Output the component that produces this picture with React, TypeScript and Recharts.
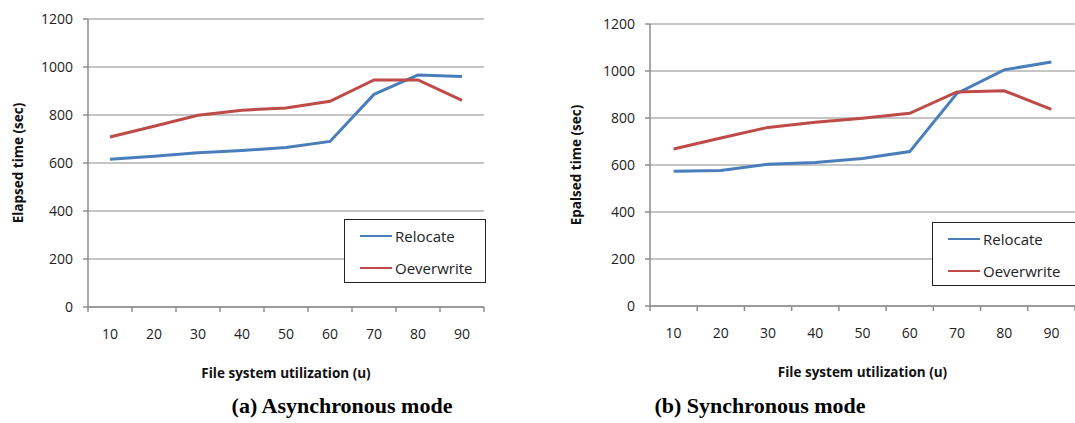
import React from 'react';
import { LineChart, Line, XAxis, YAxis, CartesianGrid } from 'recharts';

const categories = [10, 20, 30, 40, 50, 60, 70, 80, 90];
const asyncRelocate = [616, 628, 643, 652, 665, 690, 886, 967, 960];
const asyncOverwrite = [708, 753, 799, 820, 829, 857, 946, 946, 861];
const syncRelocate = [573, 577, 603, 611, 628, 657, 905, 1005, 1038];
const syncOverwrite = [668, 715, 760, 782, 799, 820, 911, 916, 837];
const yTicks = [0, 200, 400, 600, 800, 1000, 1200];
const seriesNames = ['Relocate', 'Oeverwrite'];

const BLUE = '#4a7ebb';
const RED = '#be4b48';
const GRID = '#8c8c8c';
const FONT = '"Open Sans", Calibri, sans-serif';

const asyncData = categories.map((u, i) => ({ u, relocate: asyncRelocate[i], overwrite: asyncOverwrite[i] }));
const syncData = categories.map((u, i) => ({ u, relocate: syncRelocate[i], overwrite: syncOverwrite[i] }));

const makeTick = (bw: number) => (props: any) => {
  const { x, y, payload, index } = props;
  const last = index === categories.length - 1;
  return (
    <g>
      <line x1={x - bw / 2} x2={x - bw / 2} y1={y} y2={y + 5} stroke={GRID} strokeWidth={1.5} />
      {last && <line x1={x + bw / 2} x2={x + bw / 2} y1={y} y2={y + 5} stroke={GRID} strokeWidth={1.5} />}
      <text x={x} y={y + 27} dy="0.35em" textAnchor="middle" fill="#222" fontSize={14} fontFamily={FONT}>
        {payload.value}
      </text>
    </g>
  );
};

const LegendBox = ({ left, top, width }: { left: number; top: number; width: number }) => (
  <div
    style={{
      position: 'absolute',
      left,
      top,
      width,
      height: 64,
      border: '1.5px solid #222',
      background: '#fff',
      boxSizing: 'border-box',
      fontFamily: FONT,
      fontSize: 15,
      color: '#222',
      paddingLeft: 15,
      paddingTop: 3,
    }}
  >
    {seriesNames.map((n, i) => (
      <div key={n} style={{ display: 'flex', alignItems: 'center', height: 26, marginBottom: i === 0 ? 6 : 0 }}>
        <div style={{ width: 32, height: 2.5, background: i === 0 ? BLUE : RED, marginRight: 3 }} />
        <span>{n}</span>
      </div>
    ))}
  </div>
);

type PanelProps = {
  data: any[];
  left: number;
  width: number;
  top: number;
  plotLeft: number;
  plotRight: number;
  plotBottom: number;
  yLabel: string;
  yLabelX: number;
  legendLeft: number;
  legendTop: number;
  legendWidth: number;
};

const Panel = ({ data, left, width, top, plotLeft, plotRight, plotBottom, yLabel, yLabelX, legendLeft, legendTop, legendWidth }: PanelProps) => {
  const height = 400;
  const xAxisHeight = 80;
  const bw = (plotRight - plotLeft) / categories.length;
  return (
    <div style={{ position: 'absolute', left, top: 0, width, height, overflow: 'hidden' }}>
      <LineChart
        width={width}
        height={height}
        data={data}
        margin={{ top, right: width - plotRight, left: 0, bottom: height - plotBottom - xAxisHeight }}
      >
        <CartesianGrid vertical={false} stroke={GRID} strokeWidth={1.2} />
        <XAxis
          dataKey="u"
          scale="band"
          height={xAxisHeight}
          tickLine={false}
          tickSize={0}
          tickMargin={0}
          interval={0}
          axisLine={{ stroke: GRID, strokeWidth: 1.5 }}
          tick={makeTick(bw)}
          label={{
            value: 'File system utilization (u)',
            position: 'insideTop',
            offset: 61,
            style: { fontFamily: FONT, fontSize: 13.5, fontWeight: 700, fill: '#111' },
          }}
        />
        <YAxis
          width={plotLeft}
          domain={[0, 1200]}
          ticks={yTicks}
          interval={0}
          tickSize={5}
          tickMargin={10}
          axisLine={{ stroke: GRID, strokeWidth: 1.5 }}
          tickLine={{ stroke: GRID, strokeWidth: 1.5 }}
          tick={{ fill: '#222', fontSize: 14, fontFamily: FONT }}
          label={{
            content: (p: any) => {
              const vb = p.viewBox || { x: 0, y: top, height: plotBottom - top };
              const cx = vb.x + yLabelX;
              const cy = vb.y + vb.height / 2;
              return (
                <text
                  x={cx}
                  y={cy}
                  transform={`rotate(-90 ${cx} ${cy})`}
                  textAnchor="middle"
                  dominantBaseline="central"
                  fontFamily={FONT}
                  fontSize={13.5}
                  fontWeight={700}
                  fill="#111"
                >
                  {yLabel}
                </text>
              );
            },
          }}
        />
        <Line dataKey="relocate" name="Relocate" stroke={BLUE} strokeWidth={3} dot={false} isAnimationActive={false} />
        <Line dataKey="overwrite" name="Oeverwrite" stroke={RED} strokeWidth={3} dot={false} isAnimationActive={false} />
      </LineChart>
      <LegendBox left={legendLeft} top={legendTop} width={legendWidth} />
    </div>
  );
};

const captionStyle: React.CSSProperties = {
  position: 'absolute',
  top: 394,
  width: 340,
  textAlign: 'center',
  lineHeight: '24px',
  fontFamily: '"Liberation Serif", "Times New Roman", serif',
  fontWeight: 700,
  fontSize: 22,
  color: '#000',
  whiteSpace: 'nowrap',
};

export default function App() {
  return (
    <div style={{ position: 'absolute', left: 0, top: 0, width: 1075, height: 423, background: '#fff', overflow: 'hidden' }}>
      <Panel
        data={asyncData}
        left={0}
        width={540}
        top={19}
        plotLeft={88}
        plotRight={484}
        plotBottom={307}
        yLabel="Elapsed time (sec)"
        yLabelX={18}
        legendLeft={344}
        legendTop={219}
        legendWidth={142}
      />
      <Panel
        data={syncData}
        left={540}
        width={535}
        top={24}
        plotLeft={110}
        plotRight={535}
        plotBottom={306}
        yLabel="Epalsed time (sec)"
        yLabelX={36}
        legendLeft={392}
        legendTop={222}
        legendWidth={146}
      />
      <div style={{ ...captionStyle, left: 172 }}>(a) Asynchronous mode</div>
      <div style={{ ...captionStyle, left: 590 }}>(b) Synchronous mode</div>
    </div>
  );
}
